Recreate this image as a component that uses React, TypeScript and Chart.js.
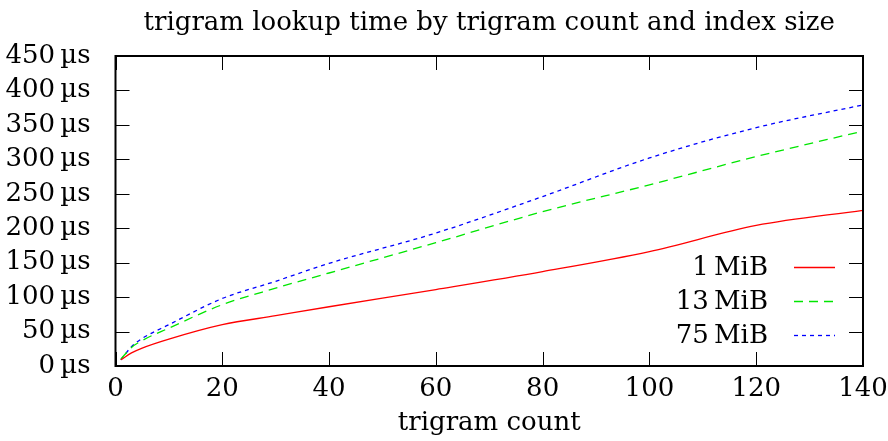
import React, { useEffect, useRef } from "react";
import { Chart, registerables } from "chart.js";

Chart.register(...registerables);

const TITLE = "trigram lookup time by trigram count and index size";
const X_TITLE = "trigram count";
const Y_UNIT = "\u2009µs";

const trigramCounts = [1, 3, 5, 10, 20, 30, 40, 60, 80, 100, 120, 140];
const time1MiB = [9, 19, 26, 39, 60, 73, 86, 111, 137, 166, 204, 226];
const time13MiB = [10, 27, 37, 55, 89, 113, 135, 179, 224, 263, 304, 341];
const time75MiB = [9, 28, 40, 60, 98, 123, 149, 193, 246, 302, 346, 379];

const seriesLabels = ["1\u2009MiB", "13\u2009MiB", "75\u2009MiB"];
const seriesColors = ["#ff0000", "#00e600", "#0000ff"];
const seriesDashes = [[], [9, 6], [4, 4]];

const X_MIN = 0;
const X_MAX = 140;
const X_STEP = 20;
const Y_MIN = 0;
const Y_MAX = 450;
const Y_STEP = 50;

const FONT_FAMILY = "'DejaVu Serif', serif";
const FONT_SIZE = 26;

const framePlugin = {
  id: "gnuFrame",
  afterDatasetsDraw(chart: any) {
    const { ctx, chartArea: a, scales } = chart;
    const xs = scales.x;
    const ys = scales.y;
    const L = 14;
    ctx.save();
    ctx.strokeStyle = "#000";
    ctx.lineWidth = 1;
    ctx.beginPath();
    xs.ticks.forEach((t: any) => {
      const p = Math.round(xs.getPixelForValue(t.value)) + 0.5;
      ctx.moveTo(p, a.bottom);
      ctx.lineTo(p, a.bottom - L);
      ctx.moveTo(p, a.top);
      ctx.lineTo(p, a.top + L);
    });
    ys.ticks.forEach((t: any) => {
      const p = Math.round(ys.getPixelForValue(t.value)) + 0.5;
      ctx.moveTo(a.left, p);
      ctx.lineTo(a.left + L, p);
      ctx.moveTo(a.right, p);
      ctx.lineTo(a.right - L, p);
    });
    ctx.stroke();
    ctx.lineWidth = 2;
    ctx.strokeRect(a.left, a.top, a.right - a.left, a.bottom - a.top);

    // key (legend) at lower right, gnuplot style
    ctx.font = `${FONT_SIZE}px ${FONT_FAMILY}`;
    ctx.fillStyle = "#000";
    ctx.textAlign = "right";
    ctx.textBaseline = "middle";
    chart.data.datasets.forEach((ds: any, i: number) => {
      const yMid = 267 + i * 34.2;
      ctx.fillText(ds.label, 768, yMid + 1);
      ctx.save();
      ctx.strokeStyle = ds.borderColor;
      ctx.lineWidth = ds.borderWidth;
      ctx.setLineDash(ds.borderDash || []);
      ctx.beginPath();
      ctx.moveTo(794, Math.round(yMid) + 0.5);
      ctx.lineTo(835, Math.round(yMid) + 0.5);
      ctx.stroke();
      ctx.restore();
    });

    // title centered over plot area
    ctx.textAlign = "center";
    ctx.textBaseline = "alphabetic";
    ctx.fillText(TITLE, (a.left + a.right) / 2, 30);
    ctx.restore();
  },
};

export default function App() {
  const ref = useRef<HTMLCanvasElement | null>(null);

  useEffect(() => {
    document.body.style.margin = "0";
    const canvas = ref.current;
    if (!canvas) return;
    const seriesValues = [time1MiB, time13MiB, time75MiB];
    const chart = new Chart(canvas, {
      type: "line",
      data: {
        datasets: seriesValues.map((vals, i) => ({
          label: seriesLabels[i],
          data: trigramCounts.map((x, j) => ({ x, y: vals[j] })),
          borderColor: seriesColors[i],
          borderWidth: 1.3,
          borderDash: seriesDashes[i],
          pointRadius: 0,
          fill: false,
          cubicInterpolationMode: "monotone" as const,
        })),
      },
      options: {
        animation: false,
        responsive: false,
        layout: { padding: { top: 56, right: 25, left: 0, bottom: 0 } },
        plugins: {
          legend: { display: false },
          title: { display: false },
          tooltip: { enabled: false },
        },
        scales: {
          x: {
            type: "linear",
            min: X_MIN,
            max: X_MAX,
            grid: { display: false, drawTicks: false },
            border: { display: false },
            ticks: {
              stepSize: X_STEP,
              color: "#000",
              padding: 8,
              maxRotation: 0,
              font: { family: FONT_FAMILY, size: FONT_SIZE },
            },
            title: {
              display: true,
              text: X_TITLE,
              color: "#000",
              padding: { top: 0, bottom: 2 },
              font: { family: FONT_FAMILY, size: FONT_SIZE, lineHeight: 1.2 },
            },
            afterFit: (s: any) => {
              s.height = 75;
              s.paddingLeft = 0;
              s.paddingRight = 0;
            },
          },
          y: {
            type: "linear",
            min: Y_MIN,
            max: Y_MAX,
            grid: { display: false, drawTicks: false },
            border: { display: false },
            ticks: {
              stepSize: Y_STEP,
              color: "#000",
              padding: 25,
              font: { family: FONT_FAMILY, size: FONT_SIZE },
              callback: (v: any) => `${v}${Y_UNIT}`,
            },
            afterFit: (s: any) => {
              s.width = 115.5;
              s.paddingTop = 0;
              s.paddingBottom = 0;
            },
          },
        },
      },
      plugins: [framePlugin],
    });
    return () => chart.destroy();
  }, []);

  return (
    <div style={{ width: 888, height: 441 }}>
      <canvas ref={ref} width={888} height={441} style={{ display: "block" }} />
    </div>
  );
}
